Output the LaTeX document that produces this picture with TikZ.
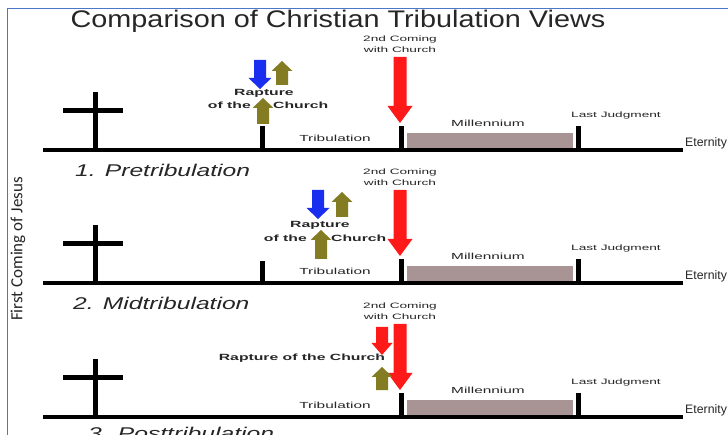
\documentclass[tikz,border=0pt]{standalone}
\usepackage{fontspec}
\setmainfont{Liberation Sans}
\newfontfamily\lblfont[FakeStretch=1.75]{Liberation Sans}
\newfontfamily\capfont[FakeStretch=1.45]{Liberation Sans}
\newfontfamily\titlefont[FakeStretch=1.2]{Liberation Sans}
\newfontfamily\sidefont{Carlito}
\definecolor{frameblue}{HTML}{4A78C8}
\definecolor{arrred}{HTML}{FF1A1A}
\definecolor{arrblue}{HTML}{1A2EF0}
\definecolor{arrolive}{HTML}{847C22}
\definecolor{millc}{HTML}{A89494}
\definecolor{txt}{HTML}{262626}
% block arrow: color, x, y of tail, y of tip, shaft width, head width, signed head length
\newcommand\blk[7]{\fill[#1] ({#2-#5/2},{#3}) -- ({#2+#5/2},{#3}) -- ({#2+#5/2},{#4-(#7)}) -- ({#2+#6/2},{#4-(#7)}) -- ({#2},{#4}) -- ({#2-#6/2},{#4-(#7)}) -- ({#2-#5/2},{#4-(#7)}) -- cycle;}
\tikzset{
  frameline/.style={draw=frameblue, line width=1.6pt},
  baseln/.style={line width=3.5pt, black},
  crossln/.style={line width=5pt, black},
  tickln/.style={line width=5pt, black},
  small/.style={font={\lblfont\fontsize{8.8}{9}\selectfont}, text=txt, inner sep=0pt},
  smallb/.style={font={\lblfont\bfseries\fontsize{9}{9}\selectfont}, text=txt, inner sep=0pt},
  tiny/.style={font={\lblfont\fontsize{7.8}{8}\selectfont}, text=txt, inner sep=0pt},
  eternal/.style={font={\fontsize{12.3}{12.5}\selectfont}, text=txt, inner sep=0pt, anchor=west},
  panellbl/.style={font={\capfont\itshape\fontsize{17}{17}\selectfont}, text=txt, inner sep=0pt, anchor=west},
  titlestyle/.style={font={\titlefont\fontsize{24}{24}\selectfont}, text=txt, inner sep=0pt, anchor=base},
  sidestyle/.style={font={\sidefont\fontsize{17}{17}\selectfont}, text=txt, inner sep=0pt, rotate=90}
}
\begin{document}
\begin{tikzpicture}[x=1pt,y=-1pt]
\useasboundingbox (0,0) rectangle (728,435);
\fill[white] (0,0) rectangle (728,435);
\draw[frameline] (7.5,435) -- (7.5,8.5) -- (728,8.5);
\node[titlestyle] (title) at (338,28) {Comparison of Christian Tribulation Views};
\node[sidestyle] (side) at (18,249) {First Coming of Jesus};

\foreach \b/\n in {150/1,283/2,417/3} {
  \fill[millc] (407,\b-17) rectangle (573,\b-1);
  \draw[baseln] (43,\b) -- (683,\b);
  \draw[crossln] (95,\b) -- (95,\b-58);
  \draw[crossln] (63,\b-39) -- (123,\b-39);
  \draw[tickln] (401,\b) -- (401,\b-24);
  \draw[tickln] (578,\b) -- (578,\b-24);
  \node[small] (trib\n) at (335,\b-12) {Tribulation};
  \node[small] (mill\n) at (488,\b-27) {Millennium};
  \node[tiny] (judg\n) at (616,\b-35) {Last Judgment};
  \node[eternal] (eter\n) at (685,\b-7) {Eternity};
  \node[tiny] (coma\n) at (400,\b-111) {2nd Coming};
  \node[tiny] (comb\n) at (400,\b-100) {with Church};
  \blk{arrred}{400}{\b-93}{\b-27}{13}{25}{17}
}

% Panel 1: Pretribulation
\draw[tickln] (262,150) -- (262,126);
\blk{arrblue}{260}{60}{89}{12}{23}{11}
\blk{arrolive}{282}{85}{61}{12}{21}{-10}
\blk{arrolive}{263}{124}{98}{12}{21}{-10}
\node[smallb] (rap1) at (264,93) {Rapture};
\node[smallb, anchor=east] (ofthe1) at (251,105) {of the};
\node[smallb, anchor=west] (church1) at (273,105) {Church};
\node[panellbl] (lbl1) at (75,170) {1. Pretribulation};

% Panel 2: Midtribulation
\draw[tickln] (262,283) -- (262,261);
\blk{arrblue}{318}{190}{219}{12}{23}{11}
\blk{arrolive}{342}{217}{192}{12}{21}{-10}
\blk{arrolive}{321}{259}{230}{12}{21}{-10}
\node[smallb] (rap2) at (320,225) {Rapture};
\node[smallb, anchor=east] (ofthe2) at (307,238) {of the};
\node[smallb, anchor=west] (church2) at (331,238) {Church};
\node[panellbl] (lbl2) at (73,303) {2. Midtribulation};

% Panel 3: Posttribulation
\blk{arrred}{382}{327}{355}{12}{21}{12}
\blk{arrolive}{382}{390}{367}{12}{21}{-10}
\node[smallb] (rap3) at (302,358) {Rapture of the Church};
\node[panellbl] (lbl3) at (88,433) {3. Posttribulation};
\end{tikzpicture}
\end{document}
